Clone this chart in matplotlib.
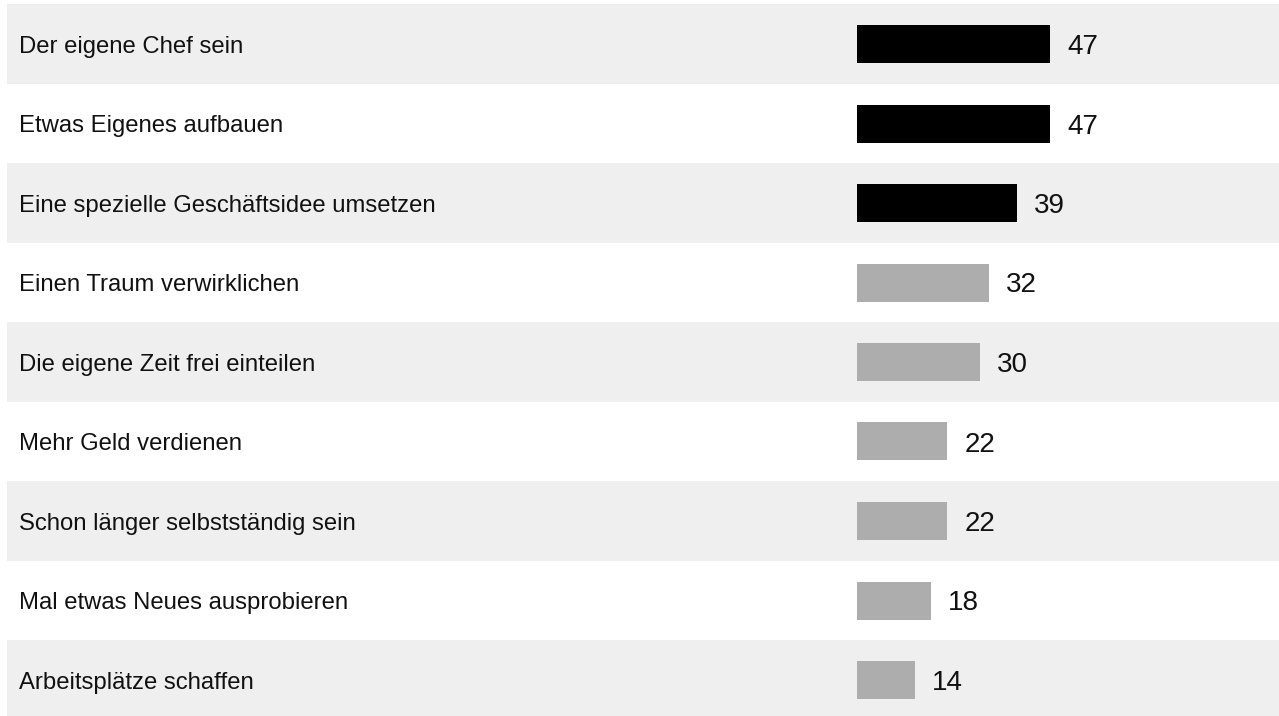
import matplotlib.pyplot as plt

plt.rcParams['font.family'] = ['Liberation Sans', 'DejaVu Sans']

categories = [
    "Der eigene Chef sein",
    "Etwas Eigenes aufbauen",
    "Eine spezielle Geschäftsidee umsetzen",
    "Einen Traum verwirklichen",
    "Die eigene Zeit frei einteilen",
    "Mehr Geld verdienen",
    "Schon länger selbstständig sein",
    "Mal etwas Neues ausprobieren",
    "Arbeitsplätze schaffen",
]
values = [47, 47, 39, 32, 30, 22, 22, 18, 14]
highlight = [True, True, True, False, False, False, False, False, False]

W, H = 1279, 716
fig = plt.figure(figsize=(W / 100, H / 100), dpi=100)
ax = fig.add_axes([0, 0, 1, 1])

# pixel geometry
px_per_unit = 4.11
bar_x0 = 857
row_h = 79.5
first_center = 44

ax.set_xlim(-bar_x0 / px_per_unit, (W - bar_x0) / px_per_unit)
ax.set_ylim((H - first_center) / row_h, -first_center / row_h)
ax.axis('off')

# alternating row bands
for i in range(len(categories)):
    if i % 2 == 0:
        ax.axhspan(i - 0.5, i + 0.5, xmin=7 / W, xmax=1, color='#efefef', lw=0, zorder=0)

colors = ['#000000' if h else '#adadad' for h in highlight]
y = list(range(len(categories)))
ax.barh(y, values, height=38 / row_h, color=colors, zorder=2)

for i, (cat, v) in enumerate(zip(categories, values)):
    ax.text(19 / W, i + 8.6 / row_h, cat, transform=ax.get_yaxis_transform(),
            fontsize=17.2, va='baseline', ha='left', color='#111111')
    ax.annotate(str(v), xy=(v, i + 10 / row_h), xytext=(12.2, 0),
                textcoords='offset points', fontsize=20, va='baseline',
                ha='left', color='#111111')

fig.savefig("out.png", dpi=100)
plt.close()
